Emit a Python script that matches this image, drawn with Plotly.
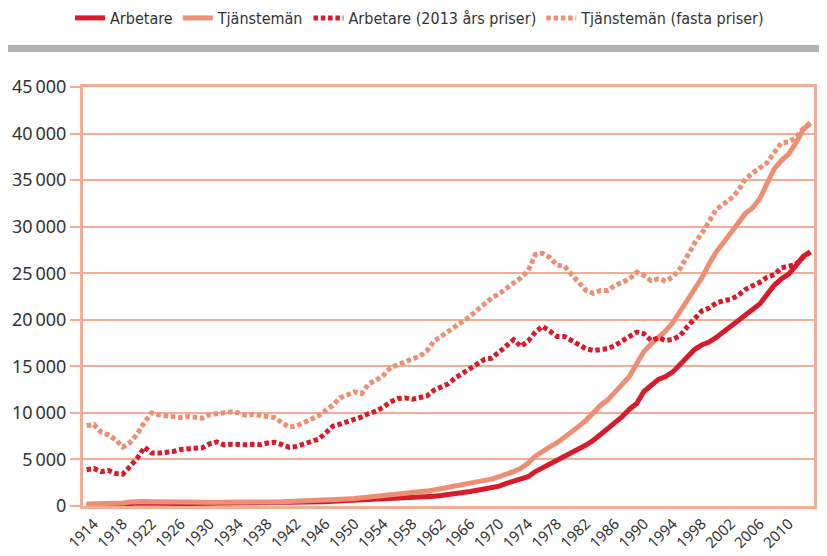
import plotly.graph_objects as go

years = list(range(1913, 2014))

arbetare = [
    100, 105, 110, 125, 150, 180, 260, 320, 290, 255,
    250, 255, 260, 265, 265, 270, 275, 280, 285, 275,
    270, 275, 280, 285, 290, 310, 320, 330, 340, 360,
    380, 400, 420, 460, 510, 540, 560, 580, 640, 660,
    690, 720, 760, 800, 840, 870, 910, 960, 1040, 1120,
    1200, 1310, 1420, 1560, 1700, 1820, 1930, 2130, 2420, 2650,
    2800, 3150, 3700, 4100, 4400, 4800, 5300, 5750, 6150, 6550,
    7050, 7700, 8300, 8900, 9600, 10400, 11000, 12300, 13000, 13600,
    13900, 14400, 15200, 16000, 16800, 17300, 17600, 18100, 18700, 19250,
    19800, 20450, 21050, 21700, 22700, 23700, 24400, 24900, 25800, 26800,
    27300,
]

tjansteman = [
    215, 225, 240, 260, 300, 330, 420, 480, 470, 450,
    430, 425, 420, 420, 420, 420, 420, 410, 410, 400,
    400, 400, 400, 410, 420, 430, 440, 450, 470, 490,
    510, 530, 560, 610, 660, 720, 760, 800, 870, 980,
    1030, 1080, 1160, 1240, 1320, 1400, 1480, 1600, 1720, 1850,
    2000, 2150, 2300, 2450, 2620, 2750, 2900, 3150, 3420, 3700,
    4050, 4600, 5350, 5900, 6350, 6800, 7350, 7900, 8550, 9200,
    10100, 10800, 11400, 12300, 13000, 13900, 15300, 16600, 17400, 18100,
    18800, 19700, 20900, 22300, 23400, 24500, 26000, 27300, 28300, 29300,
    30400, 31400, 32000, 33000, 34600, 36200, 37100, 37800, 39000, 40400,
    41150,
]

arbetare_2013 = [
    3890, 4040, 3680, 3820, 3500, 3430, 4250, 5140, 6320, 5680,
    5680, 5750, 5860, 6070, 6180, 6210, 6250, 6680, 6890, 6570,
    6640, 6570, 6570, 6620, 6580, 6770, 6840, 6600, 6300, 6400,
    6650, 6860, 7180, 7790, 8570, 8790, 9040, 9220, 9570, 9930,
    10180, 10640, 11180, 11540, 11610, 11460, 11640, 11820, 12430, 12790,
    13140, 13790, 14290, 14680, 15220, 15750, 15890, 16540, 17070, 17860,
    17140, 17710, 18680, 19290, 18780, 18210, 18210, 17780, 17250, 16890,
    16710, 16820, 16890, 17250, 17710, 18070, 18680, 18500, 17780, 18070,
    17780, 17890, 18300, 19250, 20100, 20950, 21250, 21800, 22050, 22200,
    22600, 23250, 23650, 24030, 24570, 24850, 25570, 25800, 25950, 26700,
    27300,
]

tjansteman_fasta = [
    8640, 8750, 7930, 7640, 7110, 6320, 6820, 7750, 9000, 10000,
    9790, 9710, 9500, 9500, 9610, 9460, 9430, 9820, 9930, 10000,
    10110, 10000, 9750, 9850, 9720, 9650, 9480, 8950, 8480, 8600,
    8930, 9220, 9680, 10220, 10820, 11610, 11970, 12250, 12070, 13140,
    13500, 14040, 14860, 15110, 15470, 15820, 16070, 16640, 17710, 18220,
    18750, 19390, 19860, 20390, 21070, 21790, 22360, 22790, 23430, 23960,
    24500, 25290, 27000, 27140, 26680, 25850, 25760, 24900, 23850, 23140,
    22850, 23140, 23140, 23680, 24030, 24390, 25100, 24750, 24200, 24400,
    24150, 24600, 25500, 26950, 28220, 29270, 30500, 31860, 32420, 33000,
    33820, 35070, 35750, 36250, 36860, 37930, 39000, 39100, 39600, 40500,
    41150,
]

y_ticks = [0, 5000, 10000, 15000, 20000, 25000, 30000, 35000, 40000, 45000]
y_tick_text = ["0", "5\u2009000", "10\u2009000", "15\u2009000", "20\u2009000",
               "25\u2009000", "30\u2009000", "35\u2009000", "40\u2009000", "45\u2009000"]
x_ticks = list(range(1914, 2011, 4))

RED = "#d81b2a"
SALMON = "#ec8f74"
GRID = "#f3ad97"
DOT = "4.5px,2.8px"

fig = go.Figure()
fig.add_trace(go.Scatter(x=years, y=arbetare, name="Arbetare", mode="lines",
                         line=dict(color=RED, width=5)))
fig.add_trace(go.Scatter(x=years, y=tjansteman, name="Tjänstemän", mode="lines",
                         line=dict(color=SALMON, width=5)))
fig.add_trace(go.Scatter(x=years, y=arbetare_2013, name="Arbetare (2013 års priser)", mode="lines",
                         line=dict(color=RED, width=5, dash=DOT)))
fig.add_trace(go.Scatter(x=years, y=tjansteman_fasta, name="Tjänstemän (fasta priser)", mode="lines",
                         line=dict(color=SALMON, width=5, dash=DOT)))

# page has an 8px body margin, so the figure is 8px smaller than the window
W, H = 819, 548
L, R, T, B = 75, 13, 79, 50
pw, ph = W - L - R, H - T - B

# gray separator bar (paper coordinates computed from pixel positions)
fig.add_shape(type="rect", xref="paper", yref="paper",
              x0=(0 - L) / pw, x1=(W - L) / pw,
              y0=(H - B - 44) / ph, y1=(H - B - 37) / ph,
              fillcolor="#b2b3b7", line=dict(width=0), layer="above")

fig.update_layout(
    width=W, height=H,
    margin=dict(l=L, r=R, t=T, b=B, autoexpand=False),
    paper_bgcolor="white", plot_bgcolor="white",
    font=dict(family="Noto Sans", color="#333333"),
    showlegend=True,
    legend=dict(orientation="h", xref="container", yref="container",
                x=412 / W, xanchor="center", y=1 - 10 / H, yanchor="middle",
                font=dict(family="DejaVu Sans Condensed", size=16, color="#333333"),
                itemwidth=30, tracegroupgap=0, bgcolor="rgba(0,0,0,0)"),
    xaxis=dict(range=[1912.5, 2013.5], tickmode="array", tickvals=x_ticks,
               tickangle=-45, tickfont=dict(size=15, family="Noto Sans", color="#333333"),
               showgrid=False, zeroline=False, showline=True, linecolor=GRID,
               linewidth=3, mirror=True, ticks="", automargin=False),
    yaxis=dict(range=[0, 45000], tickmode="array", tickvals=y_ticks, ticktext=y_tick_text,
               tickfont=dict(size=18, family="Noto Sans", color="#333333"),
               showgrid=True, gridcolor=GRID, gridwidth=2, zeroline=False,
               showline=True, linecolor=GRID, linewidth=3, mirror=True,
               ticks="outside", ticklen=10, tickcolor=GRID, tickwidth=2, automargin=False),
)

fig.write_html("out.html")
